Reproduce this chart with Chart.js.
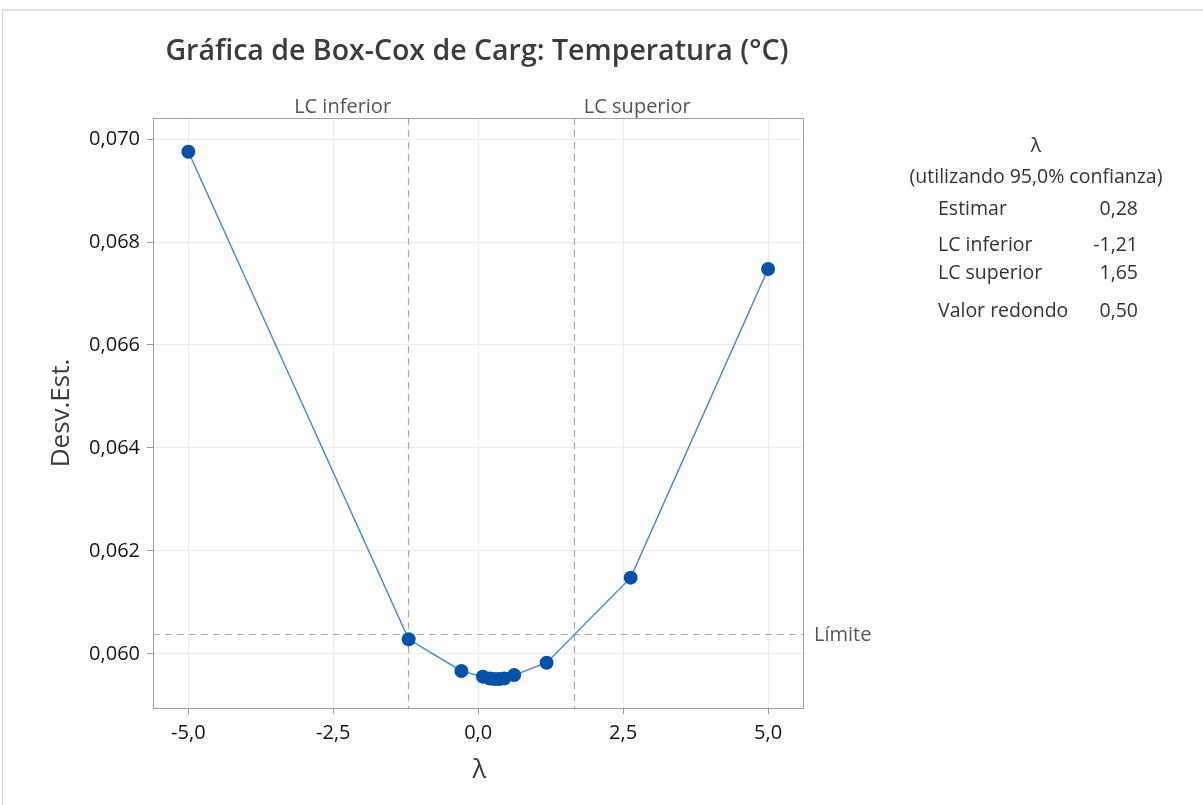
<!DOCTYPE html>
<html>
<head>
<meta charset="utf-8">
<script src="https://cdn.jsdelivr.net/npm/chart.js@4.4.1/dist/chart.umd.min.js"></script>
<style>
  html, body { margin: 0; padding: 0; background: #fff; }
  #wrap { position: relative; width: 1203px; height: 805px; overflow: hidden; }
  #frame { position: absolute; left: 2px; top: 9px; width: 1210px; height: 810px;
           border-top: 2px solid #e2e2e2; border-left: 1px solid #d6d6d6; }
  canvas { position: absolute; left: 0; top: 0; }
</style>
</head>
<body>
<div id="wrap">
  <div id="frame"></div>
  <canvas id="chart" width="1203" height="805"></canvas>
</div>
<script>
// Box-Cox profile: lambda vs. pooled standard deviation
const lambdaValues = [-5, -1.20, -0.29, 0.08, 0.20, 0.28, 0.36, 0.45, 0.62, 1.18, 2.63, 5];
const stdevValues  = [0.069753, 0.060285, 0.059670, 0.059560, 0.059525, 0.059515, 0.059515, 0.059525, 0.059590, 0.059831, 0.061482, 0.067476];

const xTickValues = [-5, -2.5, 0, 2.5, 5];
const yTickValues = [0.060, 0.062, 0.064, 0.066, 0.068, 0.070];

// confidence limits and the limit line
const lcLower = -1.21;
const lcUpper = 1.65;
const limitValue = 0.06039;

// summary table
const statLabels = ['Estimar', 'LC inferior', 'LC superior', 'Valor redondo'];
const statValues = [0.28, -1.21, 1.65, 0.50];

const FONT = '"Open Sans", "Noto Sans", sans-serif';
const fmt = (v, d) => v.toFixed(d).replace('.', ',');

const overlay = {
  id: 'overlay',
  beforeDatasetsDraw(chart) {
    const { ctx, chartArea: a, scales: { x, y } } = chart;
    ctx.save();
    ctx.strokeStyle = '#a8a8a8';
    ctx.lineWidth = 1.2;
    ctx.setLineDash([7, 5]);
    [lcLower, lcUpper].forEach(v => {
      const px = Math.round(x.getPixelForValue(v)) + 0.5;
      ctx.beginPath(); ctx.moveTo(px, a.top); ctx.lineTo(px, a.bottom); ctx.stroke();
    });
    const py = Math.round(y.getPixelForValue(limitValue)) + 0.5;
    ctx.beginPath(); ctx.moveTo(a.left, py); ctx.lineTo(a.right, py); ctx.stroke();
    ctx.restore();
  },
  afterDraw(chart) {
    const { ctx, chartArea: a, scales: { x, y } } = chart;
    ctx.save();
    // plot frame
    ctx.strokeStyle = '#a0a0a0';
    ctx.lineWidth = 1;
    ctx.strokeRect(a.left + 0.5, a.top + 0.5, a.right - a.left - 1, a.bottom - a.top);

    // title
    ctx.fillStyle = '#3c3c3c';
    ctx.font = '600 28.5px ' + FONT;
    ctx.textAlign = 'center';
    ctx.textBaseline = 'middle';
    ctx.fillText('Gráfica de Box-Cox de Carg: Temperatura (°C)', 477, 52);

    // confidence limit labels
    ctx.fillStyle = '#555';
    ctx.font = '20px ' + FONT;
    ctx.textAlign = 'right';
    ctx.fillText('LC inferior', x.getPixelForValue(lcLower) - 17, 107);
    ctx.textAlign = 'left';
    ctx.fillText('LC superior', x.getPixelForValue(lcUpper) + 10, 107);
    ctx.fillText('Límite', a.right + 10, y.getPixelForValue(limitValue) + 1);

    // axis titles
    ctx.fillStyle = '#3c3c3c';
    ctx.font = '26px ' + FONT;
    ctx.textAlign = 'center';
    ctx.fillText('λ', (a.left + a.right) / 2 + 1, 771);
    ctx.save();
    ctx.translate(62, (a.top + a.bottom) / 2);
    ctx.rotate(-Math.PI / 2);
    ctx.fillText('Desv.Est.', 0, 0);
    ctx.restore();

    // summary table
    ctx.fillStyle = '#333';
    ctx.font = '19.5px ' + FONT;
    ctx.textAlign = 'center';
    ctx.fillText('λ', 1036, 146);
    ctx.fillText('(utilizando 95,0% confianza)', 1036, 177);
    const rowY = [209, 245, 273, 311];
    statLabels.forEach((lab, i) => {
      ctx.textAlign = 'left';
      ctx.fillText(lab, 938, rowY[i]);
      ctx.textAlign = 'right';
      ctx.fillText(fmt(statValues[i], 2), 1138, rowY[i]);
    });
    ctx.restore();
  }
};

new Chart(document.getElementById('chart'), {
  type: 'scatter',
  data: {
    datasets: [{
      data: lambdaValues.map((v, i) => ({ x: v, y: stdevValues[i] })),
      showLine: true,
      borderColor: '#4a8ad4',
      borderWidth: 1.5,
      pointRadius: 7,
      pointHoverRadius: 7,
      pointBackgroundColor: '#0552a8',
      pointBorderColor: '#0552a8',
      pointBorderWidth: 0,
      tension: 0
    }]
  },
  options: {
    responsive: false,
    animation: false,
    events: [],
    layout: { padding: { top: 118, right: 399, left: 0, bottom: 0 } },
    plugins: { legend: { display: false }, tooltip: { enabled: false }, title: { display: false } },
    scales: {
      x: {
        type: 'linear',
        min: -5.61,
        max: 5.62,
        afterBuildTicks: s => { s.ticks = xTickValues.map(v => ({ value: v })); },
        afterFit: s => { s.height = 97; },
        grid: { color: '#ececec', lineWidth: 1, tickColor: '#9a9a9a', tickLength: 6 },
        border: { display: false },
        ticks: {
          color: '#141414',
          font: { family: FONT, size: 20 },
          padding: 7,
          maxRotation: 0,
          callback: v => fmt(v, 1)
        }
      },
      y: {
        type: 'linear',
        min: 0.058951,
        max: 0.070408,
        afterBuildTicks: s => { s.ticks = yTickValues.map(v => ({ value: v })); },
        afterFit: s => { s.width = 153; },
        grid: { color: '#ececec', lineWidth: 1, tickColor: '#9a9a9a', tickLength: 6 },
        border: { display: false },
        ticks: {
          color: '#141414',
          font: { family: FONT, size: 20 },
          padding: 7,
          callback: v => fmt(v, 3)
        }
      }
    }
  },
  plugins: [overlay]
});
</script>
</body>
</html>
